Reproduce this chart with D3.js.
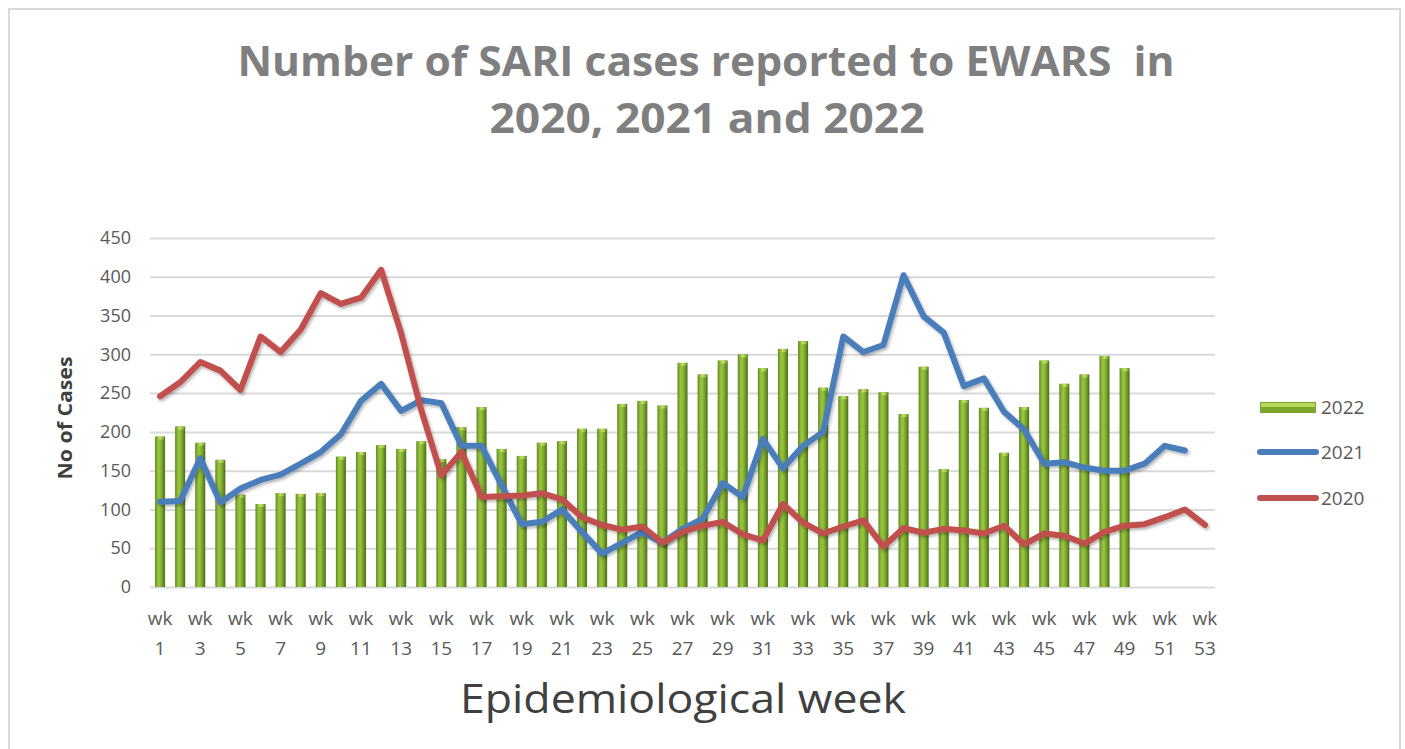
<!DOCTYPE html>
<html>
<head>
<meta charset="utf-8">
<script src="https://cdn.jsdelivr.net/npm/d3@7"></script>
<style>
  html, body { margin: 0; padding: 0; background: #fff; }
  svg { display: block; }
</style>
</head>
<body>
<svg id="chart" width="1405" height="749"></svg>
<script>
// ---- Data ----
const weeks = d3.range(1, 54); // wk 1 .. wk 53
const weekLabels = weeks.map(w => (w % 2 === 1 ? "wk " + w : ""));
const yTicks = [0, 50, 100, 150, 200, 250, 300, 350, 400, 450];

const cases2022 = [194, 207, 186, 164, 119, 107, 121, 120, 121, 168,
                   174, 183, 178, 188, 165, 206, 232, 178, 169, 186,
                   188, 204, 204, 236, 240, 234, 289, 274, 292, 300,
                   282, 307, 317, 257, 246, 255, 251, 223, 284, 152,
                   241, 231, 173, 232, 292, 262, 274, 298, 282];

const cases2021 = [110, 111, 166, 109, 127, 138, 145, 159, 174, 197,
                   240, 262, 227, 241, 237, 182, 182, 131, 81, 84,
                   100, 71, 43, 57, 71, 57, 75, 88, 134, 116,
                   191, 153, 182, 200, 323, 303, 312, 402, 349, 328,
                   259, 269, 226, 203, 159, 161, 154, 150, 150, 159,
                   182, 176];

const cases2020 = [246, 264, 290, 279, 254, 323, 303, 332, 379, 365,
                   373, 409, 327, 228, 144, 174, 116, 117, 118, 121,
                   113, 90, 80, 74, 78, 57, 71, 79, 84, 68,
                   60, 107, 83, 69, 78, 86, 52, 76, 70, 75,
                   73, 69, 79, 55, 69, 66, 56, 71, 79, 81,
                   90, 100, 80];

const seriesNames = ["2022", "2021", "2020"];

// ---- Layout ----
const svg = d3.select("#chart");
const pLeft = 150, pRight = 1215, pTop = 238, pBottom = 587;

const x = d3.scaleBand().domain(weeks).range([pLeft, pRight]).paddingInner(0.5).paddingOuter(0.25);
const xc = d => x(d) + x.bandwidth() / 2;
const y = d3.scaleLinear().domain([0, 450]).range([pBottom, pTop]);

// border
svg.append("rect").attr("x", 9).attr("y", 9).attr("width", 1391).attr("height", 760)
  .attr("fill", "#fff").attr("stroke", "#d9d9d9").attr("stroke-width", 2);

const defs = svg.append("defs");
const grad = defs.append("linearGradient").attr("id", "barGrad").attr("x1", "0").attr("x2", "1").attr("y1", "0").attr("y2", "0");
[["0%", "#5f8421"], ["25%", "#8fbb38"], ["45%", "#98c43f"], ["75%", "#6f9a28"], ["100%", "#4a6a17"]]
  .forEach(([o, c]) => grad.append("stop").attr("offset", o).attr("stop-color", c));
const capGrad = defs.append("linearGradient").attr("id", "capGrad").attr("x1", "0").attr("x2", "1").attr("y1", "0").attr("y2", "0");
[["0%", "#7aa62c"], ["50%", "#c4e66a"], ["100%", "#7aa62c"]]
  .forEach(([o, c]) => capGrad.append("stop").attr("offset", o).attr("stop-color", c));
const shadow = defs.append("filter").attr("id", "shadow").attr("x", "-5%").attr("y", "-20%").attr("width", "110%").attr("height", "140%");
shadow.append("feDropShadow").attr("dx", 1.5).attr("dy", 2).attr("stdDeviation", 1.5)
  .attr("flood-color", "#000").attr("flood-opacity", 0.3);

// gridlines
const yAxis = d3.axisLeft(y).tickValues(yTicks).tickSize(-(pRight - pLeft)).tickPadding(20);
const gy = svg.append("g").attr("transform", `translate(${pLeft},0)`).call(yAxis);
gy.select(".domain").remove();
gy.selectAll(".tick line").attr("stroke", "#d9d9d9").attr("stroke-width", 2);
gy.selectAll(".tick text").attr("fill", "#595959").attr("font-family", "Open Sans, sans-serif")
  .attr("font-size", 18).attr("x", -19);

// bars
const barData = cases2022.map((v, i) => ({ w: weeks[i], v }));
const bars = svg.append("g");
bars.selectAll("rect.bar").data(barData).join("rect").attr("class", "bar")
  .attr("x", d => x(d.w)).attr("width", x.bandwidth())
  .attr("y", d => y(d.v)).attr("height", d => y(0) - y(d.v))
  .attr("fill", "url(#barGrad)");
bars.selectAll("rect.cap").data(barData).join("rect").attr("class", "cap")
  .attr("x", d => x(d.w) + 1).attr("width", x.bandwidth() - 2)
  .attr("y", d => y(d.v)).attr("height", 3)
  .attr("fill", "url(#capGrad)");

// lines
const line = d3.line().x((d, i) => xc(weeks[i])).y(d => y(d));
svg.append("path").datum(cases2021).attr("d", line).attr("fill", "none")
  .attr("stroke", "#4a7ebb").attr("stroke-width", 6).attr("stroke-linejoin", "round")
  .attr("stroke-linecap", "round").attr("filter", "url(#shadow)");
svg.append("path").datum(cases2020).attr("d", line).attr("fill", "none")
  .attr("stroke", "#c0504d").attr("stroke-width", 6).attr("stroke-linejoin", "round")
  .attr("stroke-linecap", "round").attr("filter", "url(#shadow)");

// x axis labels (two lines)
const xl = svg.append("g").attr("font-family", "Open Sans, sans-serif").attr("font-size", 19).attr("fill", "#595959").attr("text-anchor", "middle");
weeks.forEach((w, i) => {
  const lab = weekLabels[i];
  if (!lab) return;
  const parts = lab.split(" ");
  const t = xl.append("text").attr("x", xc(w)).attr("y", 625);
  t.append("tspan").attr("x", xc(w)).attr("dy", 0).text(parts[0]);
  t.append("tspan").attr("x", xc(w)).attr("dy", 30).text(parts[1]);
});

// axis titles
svg.append("text").attr("transform", "translate(72,418) rotate(-90)").attr("text-anchor", "middle")
  .attr("font-family", "Open Sans, sans-serif").attr("font-weight", "bold").attr("font-size", 19)
  .attr("fill", "#404040").attr("textLength", 123).attr("lengthAdjust", "spacingAndGlyphs").text("No of Cases");
svg.append("text").attr("x", 683).attr("y", 713).attr("text-anchor", "middle")
  .attr("font-family", "Open Sans, sans-serif").attr("font-size", 40)
  .attr("fill", "#404040").attr("textLength", 446).attr("lengthAdjust", "spacingAndGlyphs").text("Epidemiological week");

// title
const title = svg.append("g").attr("font-family", "Open Sans, sans-serif").attr("font-weight", "bold")
  .attr("font-size", 41).attr("fill", "#7f7f7f").attr("text-anchor", "middle")
  .style("white-space", "pre");
title.append("text").attr("x", 706).attr("y", 76).attr("textLength", 937).attr("lengthAdjust", "spacingAndGlyphs")
  .attr("xml:space", "preserve").style("white-space", "pre")
  .text("Number of SARI cases reported to EWARS  in");
title.append("text").attr("x", 707).attr("y", 133).attr("textLength", 435).attr("lengthAdjust", "spacingAndGlyphs")
  .text("2020, 2021 and 2022");

// legend
const lg = svg.append("g").attr("font-family", "Open Sans, sans-serif").attr("font-size", 19).attr("fill", "#595959");
const ly = [407, 452, 498];
lg.append("rect").attr("x", 1260).attr("y", ly[0] - 5).attr("width", 56).attr("height", 11)
  .attr("fill", "#7da52e");
lg.append("rect").attr("x", 1261).attr("y", ly[0] - 4).attr("width", 54).attr("height", 4)
  .attr("fill", "#b5d95a");
lg.append("line").attr("x1", 1260).attr("x2", 1316).attr("y1", ly[1]).attr("y2", ly[1])
  .attr("stroke", "#4a7ebb").attr("stroke-width", 6).attr("stroke-linecap", "round");
lg.append("line").attr("x1", 1260).attr("x2", 1316).attr("y1", ly[2]).attr("y2", ly[2])
  .attr("stroke", "#c0504d").attr("stroke-width", 6).attr("stroke-linecap", "round");
seriesNames.forEach((n, i) => {
  lg.append("text").attr("x", 1321).attr("y", ly[i] + 7).text(n);
});
</script>
</body>
</html>
